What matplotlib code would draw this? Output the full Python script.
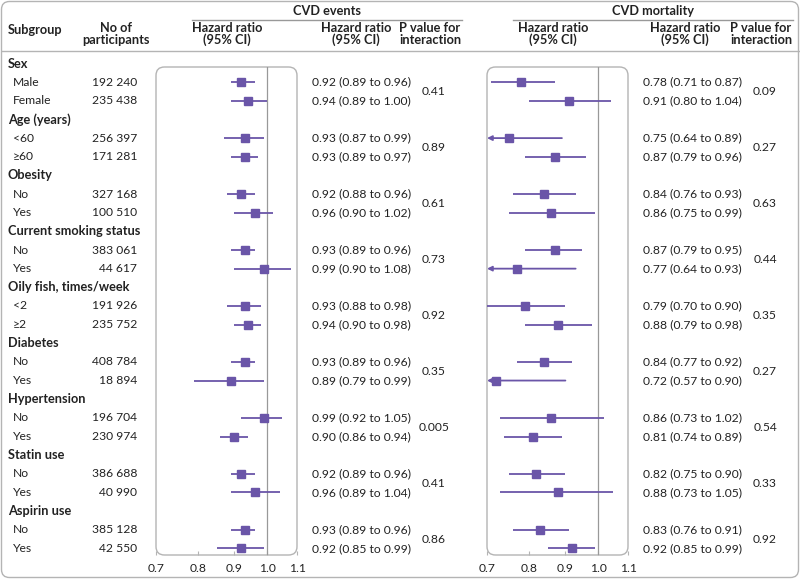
import numpy as np
import matplotlib
matplotlib.use("Agg")
import matplotlib.pyplot as plt
from matplotlib.patches import FancyBboxPatch

plt.rcParams['font.family'] = ['Lato', 'DejaVu Sans']

# rows: (label, is_header)
groups = ["Sex", "Age (years)", "Obesity", "Current smoking status",
          "Oily fish, times/week", "Diabetes", "Hypertension", "Statin use", "Aspirin use"]
levels = [["Male", "Female"], ["<60", "\u226560"], ["No", "Yes"], ["No", "Yes"],
          ["<2", "\u22652"], ["No", "Yes"], ["No", "Yes"], ["No", "Yes"], ["No", "Yes"]]
participants = ["192 240", "235 438", "256 397", "171 281", "327 168", "100 510",
                "383 061", "44 617", "191 926", "235 752", "408 784", "18 894",
                "196 704", "230 974", "386 688", "40 990", "385 128", "42 550"]

ev_hr = [0.92, 0.94, 0.93, 0.93, 0.92, 0.96, 0.93, 0.99, 0.93, 0.94, 0.93, 0.89, 0.99, 0.90, 0.92, 0.96, 0.93, 0.92]
ev_lo = [0.89, 0.89, 0.87, 0.89, 0.88, 0.90, 0.89, 0.90, 0.88, 0.90, 0.89, 0.79, 0.92, 0.86, 0.89, 0.89, 0.89, 0.85]
ev_hi = [0.96, 1.00, 0.99, 0.97, 0.96, 1.02, 0.96, 1.08, 0.98, 0.98, 0.96, 0.99, 1.05, 0.94, 0.96, 1.04, 0.96, 0.99]
ev_p = ["0.41", "0.89", "0.61", "0.73", "0.92", "0.35", "0.005", "0.41", "0.86"]

mo_hr = [0.78, 0.91, 0.75, 0.87, 0.84, 0.86, 0.87, 0.77, 0.79, 0.88, 0.84, 0.72, 0.86, 0.81, 0.82, 0.88, 0.83, 0.92]
mo_lo = [0.71, 0.80, 0.64, 0.79, 0.76, 0.75, 0.79, 0.64, 0.70, 0.79, 0.77, 0.57, 0.73, 0.74, 0.75, 0.73, 0.76, 0.85]
mo_hi = [0.87, 1.04, 0.89, 0.96, 0.93, 0.99, 0.95, 0.93, 0.90, 0.98, 0.92, 0.90, 1.02, 0.89, 0.90, 1.05, 0.91, 0.99]
mo_p = ["0.09", "0.27", "0.63", "0.44", "0.35", "0.27", "0.54", "0.33", "0.92"]

ticks = [0.7, 0.8, 0.9, 1.0, 1.1]

W, H = 800, 580
PURPLE = "#6a55a8"
TXT = "#222222"
GRAY = "#b4b4b4"
FS = 8.7
FSB = 9.2

fig = plt.figure(figsize=(W / 100, H / 100), dpi=100)
bg = fig.add_axes([0, 0, 1, 1])
bg.set_xlim(0, W)
bg.set_ylim(H, 0)
bg.axis("off")

# outer frame and header rule
bg.add_patch(FancyBboxPatch((1.5, 1.5), W - 3, H - 4, boxstyle="round,pad=0,rounding_size=8",
                            fc="none", ec=GRAY, lw=1.0))
bg.plot([1.5, W - 1.5], [51, 51], color=GRAY, lw=1.0)

# headers
def hdr(x, y, s, ha="center"):
    bg.text(x, y, s, ha=ha, va="center", fontsize=FSB, fontweight="bold", color=TXT, linespacing=1.0)

hdr(8, 30, "Subgroup", ha="left")
hdr(116, 34, "No of\nparticipants")
for x0, x1, title, c1, c2, c3 in [(192, 462, "CVD events", 227, 356, 430),
                                   (513, 793, "CVD mortality", 553, 685, 761)]:
    hdr((x0 + x1) / 2, 11, title)
    bg.plot([x0, x1], [19.5, 19.5], color="#999999", lw=1.0)
    hdr(c1, 34, "Hazard ratio\n(95% CI)")
    hdr(c2, 34, "Hazard ratio\n(95% CI)")
    hdr(c3, 34, "P value for\ninteraction")

# row positions
y0, dy = 63.5, 18.65
rows_y = []
r = 0
for g, lv in zip(groups, levels):
    bg.text(8, y0 + r * dy, g, ha="left", va="center", fontsize=FSB, fontweight="bold", color=TXT)
    r += 1
    for l in lv:
        rows_y.append(y0 + r * dy)
        bg.text(13, y0 + r * dy, l, ha="left", va="center", fontsize=FS, color=TXT)
        r += 1

for y, n in zip(rows_y, participants):
    bg.text(137, y, n, ha="right", va="center", fontsize=FS, color=TXT)

box_top, box_bot = 67, 555


def forest(xl, xr, hr, lo, hi, pv, tx, px):
    ax = fig.add_axes([xl / W, 1 - box_bot / H, (xr - xl) / W, (box_bot - box_top) / H])
    ax.set_xscale("log")
    ax.set_xlim(ticks[0], ticks[-1])
    ax.set_ylim(box_bot, box_top)
    ax.patch.set_alpha(0)
    for s in ax.spines.values():
        s.set_visible(False)
    ax.add_patch(FancyBboxPatch((0, 0), 1, 1, transform=ax.transAxes,
                                boxstyle="round,pad=0,rounding_size=0.06",
                                mutation_aspect=(xr - xl) / (box_bot - box_top),
                                fc="none", ec=GRAY, lw=1.0, clip_on=False))
    ax.axvline(1.0, color="#999999", lw=0.9)
    ax.set_xticks(ticks)
    ax.set_xticklabels([f"{t:.1f}" for t in ticks])
    ax.xaxis.set_minor_locator(matplotlib.ticker.NullLocator())
    ax.tick_params(axis="x", direction="in", length=3, color=GRAY, labelsize=FS,
                   labelcolor=TXT, pad=6)
    ax.set_yticks([])
    for y, h, a, b in zip(rows_y, hr, lo, hi):
        if a < ticks[0]:
            ax.annotate("", xy=(ticks[0], y), xytext=(b, y),
                        arrowprops=dict(arrowstyle="-|>", color=PURPLE, lw=1.3,
                                        mutation_scale=7, shrinkA=0, shrinkB=0))
        else:
            ax.plot([a, b], [y, y], color=PURPLE, lw=1.3, solid_capstyle="butt")
        ax.plot(h, y, "s", color=PURPLE, ms=6)
    for y, h, a, b in zip(rows_y, hr, lo, hi):
        bg.text(tx, y, f"{h:.2f} ({a:.2f} to {b:.2f})", ha="left", va="center",
                fontsize=FS, color=TXT)
    for i, p in enumerate(pv):
        ym = (rows_y[2 * i] + rows_y[2 * i + 1]) / 2
        bg.text(px, ym, p, ha="center", va="center", fontsize=FS, color=TXT)


forest(156, 297, ev_hr, ev_lo, ev_hi, ev_p, 312, 434)
forest(487, 628, mo_hr, mo_lo, mo_hi, mo_p, 643, 765)

fig.savefig("out.png", dpi=100)
